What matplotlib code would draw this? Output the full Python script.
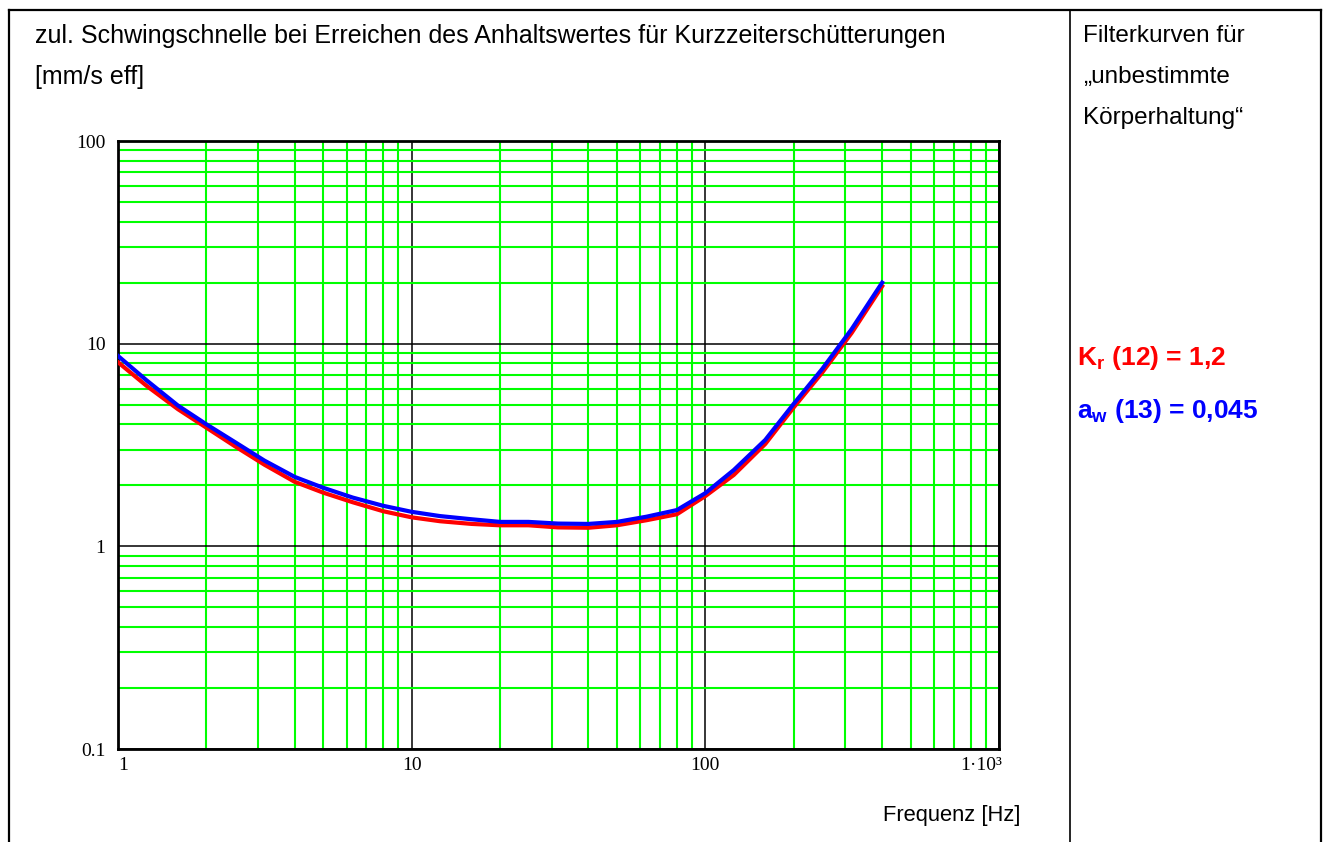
import matplotlib
matplotlib.use('Agg')
import matplotlib.pyplot as plt
import numpy as np
from matplotlib.lines import Line2D
from matplotlib.ticker import LogLocator, NullFormatter

# third-octave band frequencies [Hz]
freq = [1, 1.25, 1.6, 2, 2.5, 3.15, 4, 5, 6.3, 8, 10, 12.5, 16, 20, 25, 31.5,
        40, 50, 63, 80, 100, 125, 160, 200, 250, 315, 400]
# K_r (12) = 1,2
v_kr = [8.1, 6.2, 4.75, 3.85, 3.12, 2.53, 2.08, 1.84, 1.65, 1.49, 1.39, 1.33, 1.29,
        1.27, 1.27, 1.24, 1.235, 1.27, 1.345, 1.44, 1.77, 2.25, 3.2, 4.85, 7.2, 11.3, 19.2]
# a_w (13) = 0,045
v_aw = [8.7, 6.6, 4.95, 4.0, 3.27, 2.65, 2.2, 1.945, 1.74, 1.585, 1.48, 1.41, 1.36,
        1.32, 1.32, 1.295, 1.29, 1.32, 1.40, 1.51, 1.83, 2.38, 3.35, 5.05, 7.5, 11.8, 20.0]

x_ticks = [1, 10, 100, 1000]
x_ticklabels = ['1', '10', '100', '1\u00b710\u00b3']
y_ticks = [0.1, 1, 10, 100]
y_ticklabels = ['0.1', '1', '10', '100']

W, H = 1325, 842
fig = plt.figure(figsize=(W / 100, H / 100), dpi=100)
ax = fig.add_axes([118 / W, 1 - 749 / H, (999 - 118) / W, (749 - 141) / H])

ax.set_xscale('log')
ax.set_yscale('log')
ax.set_xlim(1, 1000)
ax.set_ylim(0.1, 100)

ax.xaxis.set_minor_locator(LogLocator(base=10, subs=np.arange(2, 10)))
ax.yaxis.set_minor_locator(LogLocator(base=10, subs=np.arange(2, 10)))
ax.xaxis.set_minor_formatter(NullFormatter())
ax.yaxis.set_minor_formatter(NullFormatter())
ax.grid(True, which='minor', color='#00ff00', lw=1.5, zorder=0)
ax.grid(True, which='major', color='black', lw=1.1, zorder=1)
ax.set_axisbelow(True)
ax.tick_params(which='both', length=0)

ax.set_xticks(x_ticks)
ax.set_xticklabels([])
ax.set_yticks(y_ticks)
ax.set_yticklabels(y_ticklabels, family='Liberation Serif', fontsize=14)
ax.tick_params(axis='y', pad=9)

trans = ax.get_xaxis_transform()
has = ['left', 'center', 'center', 'right']
for xv, lab, ha in zip(x_ticks, x_ticklabels, has):
    ax.text(xv * (1.025 if ha == 'right' else 1), -0.013, lab, transform=trans, ha=ha, va='top',
            family='Liberation Serif', fontsize=14)

for s in ax.spines.values():
    s.set_linewidth(2)

ax.plot(freq, v_kr, color='red', lw=3, zorder=3)
ax.plot(freq, v_aw, color='blue', lw=3, zorder=4)

# table frame
fig.add_artist(Line2D([9 / W, 1321 / W], [1 - 10 / H, 1 - 10 / H], color='black', lw=1.6))
fig.add_artist(Line2D([9 / W, 9 / W], [0, 1 - 10 / H], color='black', lw=1.6))
fig.add_artist(Line2D([1321 / W, 1321 / W], [0, 1 - 10 / H], color='black', lw=1.6))
fig.add_artist(Line2D([1070 / W, 1070 / W], [0, 1 - 10 / H], color='black', lw=1.2))

sans = 'Liberation Sans'
fig.text(35 / W, 1 - 36 / H, 'zul. Schwingschnelle bei Erreichen des Anhaltswertes für Kurzzeiterschütterungen',
         family=sans, fontsize=18, va='center', ha='left')
fig.text(35 / W, 1 - 77 / H, '[mm/s eff]', family=sans, fontsize=18, va='center', ha='left')
fig.text(1083 / W, 1 - 36 / H, 'Filterkurven für', family=sans, fontsize=17.5, va='center')
fig.text(1083 / W, 1 - 77 / H, '\u201eunbestimmte', family=sans, fontsize=17.5, va='center')
fig.text(1083 / W, 1 - 118 / H, 'Körperhaltung\u201c', family=sans, fontsize=17.5, va='center')
fig.text(1020 / W, 1 - 815 / H, 'Frequenz [Hz]', family=sans, fontsize=15.8, va='center', ha='right')

fig.text(1077 / W, 1 - 365 / H, r'K$_\mathregular{r}$ (12) = 1,2', color='red', family=sans,
         weight='bold', fontsize=19, va='baseline', ha='left')
fig.text(1077 / W, 1 - 418 / H, r'a$_\mathregular{w}$ (13) = 0,045', color='blue', family=sans,
         weight='bold', fontsize=19, va='baseline', ha='left')

fig.savefig('out.png', dpi=100)
